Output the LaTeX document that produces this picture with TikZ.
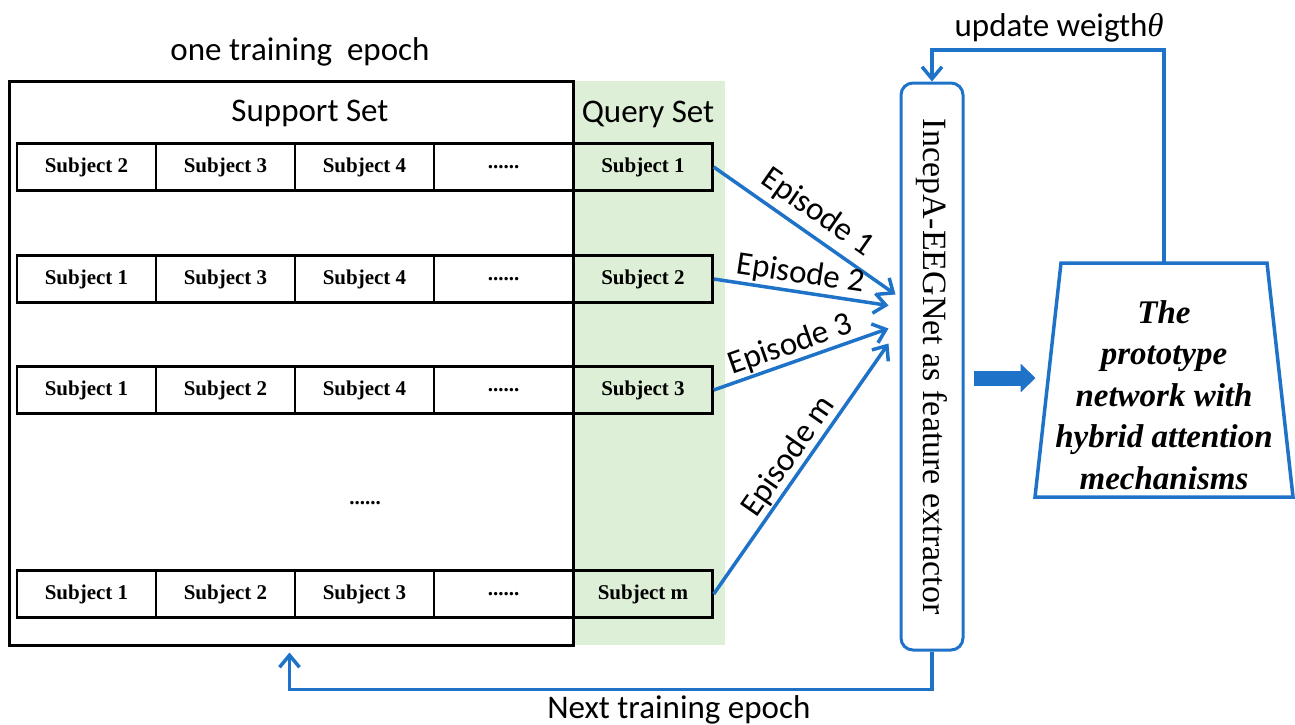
\documentclass[tikz,border=0pt]{standalone}
\usepackage{fontspec}
\setmainfont{Liberation Serif}
\newfontfamily\calibri{Carlito}
\newfontfamily\timesfont{Liberation Serif}
\usetikzlibrary{arrows.meta,calc}
\definecolor{flowblue}{RGB}{30,115,200}
\definecolor{qgreen}{RGB}{221,239,215}
\begin{document}
\begin{tikzpicture}[x=1pt,y=-1pt,
  cell/.style={draw=black, line width=2.5pt, minimum width=139pt, minimum height=47pt, inner sep=0pt,
    font=\timesfont\fontsize{21}{24}\selectfont\bfseries},
  sanslabel/.style={font=\calibri\fontsize{33}{38}\selectfont, inner sep=0pt},
  flow/.style={draw=flowblue, line width=3.5pt},
  barb/.style={-{Straight Barb[length=12pt,width=20pt,line width=3.5pt]}},
]
\useasboundingbox (0,0) rectangle (1295,724);
% query-set background
\fill[qgreen] (573,81) rectangle (725,645);
% outer epoch box
\node[draw=black, line width=3pt, minimum width=564pt, minimum height=564pt, inner sep=0pt] (outer) at (291,363) {};
\node[sanslabel] (epoch) at (300,52) {one training\ \ epoch};
\node[sanslabel] (support) at (310,113) {Support Set};
\node[sanslabel] (query) at (648,114) {Query Set};
% rows
\foreach \r/\y/\a/\b/\c/\q in {1/167/Subject 2/Subject 3/Subject 4/Subject 1,
                               2/279/Subject 1/Subject 3/Subject 4/Subject 2,
                               3/390/Subject 1/Subject 2/Subject 4/Subject 3,
                               4/594/Subject 1/Subject 2/Subject 3/Subject m}{
  \node[cell] (r\r c1) at (86.5,\y) {\a};
  \node[cell] (r\r c2) at (225.5,\y) {\b};
  \node[cell] (r\r c3) at (364.5,\y) {\c};
  \node[cell] (r\r c4) at (503.5,\y) {......};
  \node[cell] (r\r c5) at (643,\y) {\q};
}
\node[font=\timesfont\fontsize{21}{24}\selectfont\bfseries] (mid) at (365,503) {......};
% feature extractor
\node[draw=flowblue, line width=3pt, rounded corners=12pt, minimum width=62pt, minimum height=567pt, inner sep=0pt,
  label={[rotate=-90, font=\timesfont\fontsize{34}{40}\selectfont]center:IncepA-EEGNet as feature extractor}] (fe) at (932,366.5) {};
% episode arrows
\draw[flow,barb] (r1c5.east) -- node[sanslabel, sloped, above=6pt, pos=0.5] {Episode 1} ($(fe.west)+(-4,-72)$);
\draw[flow,barb] (r2c5.east) -- node[sanslabel, sloped, above=2pt, pos=0.48] {Episode 2} ($(fe.west)+(-11,-61)$);
\draw[flow,barb] (r3c5.east) -- node[sanslabel, sloped, above=1pt, pos=0.47] {Episode 3} ($(fe.west)+(-11,-38)$);
\draw[flow,barb] (r4c5.east) -- node[sanslabel, sloped, above=1pt, pos=0.51] {Episode m} ($(fe.west)+(-11,-23)$);
% prototype network trapezoid
\draw[flowblue, line width=3.5pt] (1061,263) -- (1267,263) -- (1293,497) -- (1035,497) -- cycle;
\coordinate (traptop) at (1164,263);
\node[align=center, inner sep=0pt, font=\timesfont\fontsize{33}{41.5}\selectfont\bfseries\itshape] (trap) at (1164,395)
  {The\\prototype\\network with\\hybrid attention\\mechanisms};
% block arrow
\draw[draw=flowblue, line width=15pt, -{Triangle[length=15pt,width=28pt]}] ($(fe.east)+(9,11.5)$) -- ($(fe.east)+(71,11.5)$);
% update loop
\draw[flow,barb] (traptop) -- ++(0,-213) -| node[sanslabel, pos=0.226, above=6pt] {update weigth{\timesfont\itshape θ}} (fe.north);
% next epoch loop
\draw[flow,barb] (fe.south) -- ++(0,38) -| node[sanslabel, pos=0.197, below=4pt] {Next training epoch} ($(outer.south west)+(282,6)$);
\end{tikzpicture}
\end{document}
